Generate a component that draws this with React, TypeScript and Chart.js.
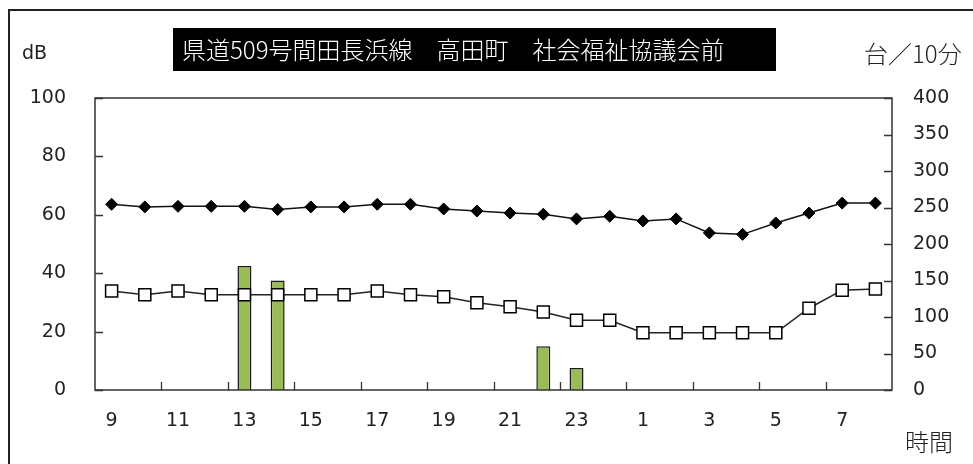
import React, { useEffect, useRef } from "react";
import { Chart, registerables } from "chart.js";

Chart.register(...registerables);

// ---- data ----
const hours = ["9", "10", "11", "12", "13", "14", "15", "16", "17", "18", "19", "20", "21", "22", "23", "0", "1", "2", "3", "4", "5", "6", "7", "8"];
const levelDb = [63.6, 62.7, 62.9, 62.9, 62.9, 61.8, 62.7, 62.7, 63.6, 63.6, 62.0, 61.3, 60.6, 60.2, 58.6, 59.5, 57.9, 58.6, 53.8, 53.3, 57.2, 60.6, 64.0, 64.0];
const lowerDb = [33.9, 32.6, 33.9, 32.6, 32.6, 32.6, 32.6, 32.6, 33.9, 32.6, 31.9, 29.9, 28.5, 26.7, 23.9, 23.9, 19.6, 19.6, 19.6, 19.6, 19.6, 28.0, 34.2, 34.6];
const volume = [null, null, null, null, 170, 150, null, null, null, null, null, null, null, 60, 30, null, null, null, null, null, null, null, null, null];
const leftTicks = [0, 20, 40, 60, 80, 100];
const rightTicks = [0, 50, 100, 150, 200, 250, 300, 350, 400];
const titleText = "県道509号間田長浜線　高田町　社会福祉協議会前";
const leftUnit = "dB";
const rightUnit = "台／10分";
const xUnit = "時間";

const JP = '"Noto Sans CJK JP", "Noto Sans", sans-serif';
const NUM = '"DejaVu Sans", sans-serif';

const decor = {
  id: "decor",
  beforeDraw(chart: any) {
    const ctx = chart.ctx;
    ctx.save();
    ctx.fillStyle = "#ffffff";
    ctx.fillRect(0, 0, chart.width, chart.height);
    // outer frame (left + top visible)
    ctx.strokeStyle = "#222";
    ctx.lineWidth = 2;
    ctx.beginPath();
    ctx.moveTo(9, chart.height + 5);
    ctx.lineTo(9, 10);
    ctx.lineTo(chart.width + 5, 10);
    ctx.stroke();
    // title box
    ctx.fillStyle = "#000";
    ctx.fillRect(173, 28, 603, 43);
    ctx.fillStyle = "#fff";
    ctx.font = `300 24px ${JP}`;
    ctx.textBaseline = "middle";
    ctx.textAlign = "left";
    ctx.fillText(titleText, 182, 50);
    // unit labels
    ctx.fillStyle = "#222";
    ctx.font = `19px ${NUM}`;
    ctx.fillText(leftUnit, 22, 54);
    ctx.font = `300 24px ${JP}`;
    ctx.fillText(rightUnit, 864, 54);
    ctx.fillText(xUnit, 905, 442);
    ctx.restore();
  },
  afterDatasetsDraw(chart: any) {
    const ctx = chart.ctx;
    const a = chart.chartArea;
    const xs = chart.scales.x;
    const yl = chart.scales.y;
    const yr = chart.scales.y1;
    ctx.save();
    ctx.strokeStyle = "#333";
    ctx.lineWidth = 1.5;
    ctx.strokeRect(a.left, a.top, a.right - a.left, a.bottom - a.top);
    ctx.lineWidth = 1.3;
    ctx.beginPath();
    for (let k = 1.5; k < hours.length - 1; k += 2) {
      const px = Math.round(xs.getPixelForValue(k)) + 0.5;
      ctx.moveTo(px, a.bottom);
      ctx.lineTo(px, a.bottom - 8);
    }
    leftTicks.forEach((v) => {
      const py = Math.round(yl.getPixelForValue(v)) + 0.5;
      ctx.moveTo(a.left, py);
      ctx.lineTo(a.left + 8, py);
    });
    rightTicks.forEach((v) => {
      const py = Math.round(yr.getPixelForValue(v)) + 0.5;
      ctx.moveTo(a.right, py);
      ctx.lineTo(a.right - 8, py);
    });
    ctx.stroke();
    ctx.restore();
  },
};

export default function App() {
  const ref = useRef<HTMLCanvasElement>(null);
  useEffect(() => {
    if (!ref.current) return;
    const chart = new Chart(ref.current, {
      type: "bar",
      data: {
        labels: hours,
        datasets: [
          {
            type: "line",
            data: levelDb,
            yAxisID: "y",
            order: 1,
            borderColor: "#111",
            borderWidth: 1.5,
            pointStyle: "rectRot",
            pointRadius: 6,
            pointBackgroundColor: "#000",
            pointBorderColor: "#000",
            pointBorderWidth: 1,
            tension: 0,
          } as any,
          {
            type: "line",
            data: lowerDb,
            yAxisID: "y",
            order: 2,
            borderColor: "#222",
            borderWidth: 1.5,
            pointStyle: "rect",
            pointRadius: 8.5,
            pointBackgroundColor: "#fff",
            pointBorderColor: "#000",
            pointBorderWidth: 1.5,
            tension: 0,
          } as any,
          {
            type: "bar",
            data: volume,
            yAxisID: "y1",
            order: 3,
            backgroundColor: "#9BBB59",
            borderColor: "#1a1a1a",
            borderWidth: 1.5,
            barPercentage: 0.42,
            categoryPercentage: 1,
          } as any,
        ],
      },
      options: {
        responsive: false,
        animation: false,
        layout: { padding: { top: 98, left: 0, right: 0, bottom: 0 } },
        plugins: { legend: { display: false }, tooltip: { enabled: false }, title: { display: false } },
        scales: {
          x: {
            type: "category",
            offset: true,
            grid: { display: false, drawTicks: false },
            border: { display: false },
            ticks: {
              autoSkip: false,
              maxRotation: 0,
              padding: 20,
              color: "#222",
              font: { family: NUM, size: 19 },
              callback: (_v: any, i: number) => (i % 2 === 0 ? hours[i] : ""),
            },
            afterFit: (s: any) => {
              s.height = 74;
            },
          },
          y: {
            position: "left",
            min: 0,
            max: 100,
            grid: { display: false, drawTicks: false },
            border: { display: false },
            ticks: { stepSize: 20, padding: 29, color: "#222", font: { family: NUM, size: 19 } },
            afterFit: (s: any) => {
              s.width = 95;
            },
          },
          y1: {
            position: "right",
            min: 0,
            max: 400,
            grid: { display: false, drawTicks: false },
            border: { display: false },
            ticks: { stepSize: 50, padding: 21, color: "#222", font: { family: NUM, size: 19 } },
            afterFit: (s: any) => {
              s.width = 81;
            },
          },
        },
      } as any,
      plugins: [decor],
    });
    return () => chart.destroy();
  }, []);
  return (
    <div style={{ position: "absolute", left: 0, top: 0, width: 973, height: 464 }}>
      <canvas ref={ref} width={973} height={464} style={{ display: "block" }} />
    </div>
  );
}
